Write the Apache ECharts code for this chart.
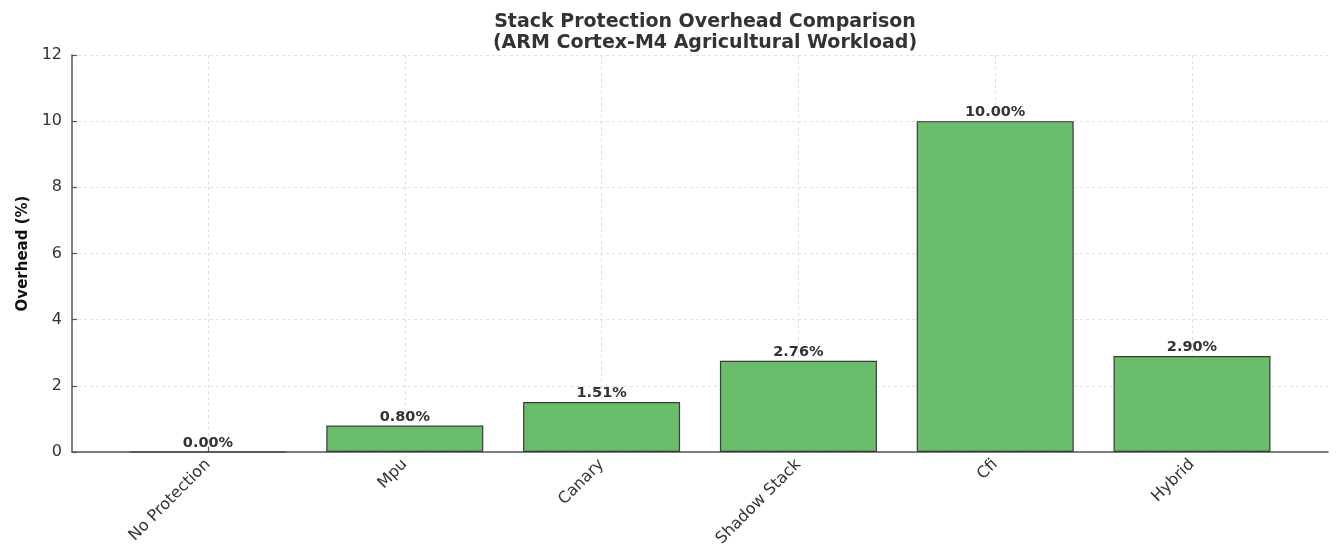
<!DOCTYPE html>
<html>
<head>
<meta charset="utf-8">
<script src="https://cdn.jsdelivr.net/npm/echarts@6/dist/echarts.min.js"></script>
<style>html,body{margin:0;padding:0;background:#fff}#c{width:1340px;height:552px}</style>
</head>
<body>
<div id="c"></div>
<script>
const categories = ['No Protection', 'Mpu', 'Canary', 'Shadow Stack', 'Cfi', 'Hybrid'];
const overhead = [0.00, 0.80, 1.51, 2.76, 10.00, 2.90];
const yTicks = [0, 2, 4, 6, 8, 10, 12];

const chart = echarts.init(document.getElementById('c'), null, {renderer: 'canvas'});
const font = 'DejaVu Sans';
const gridTop = 55, gridBottom = 100;
chart.setOption({
  animation: false,
  backgroundColor: '#fff',
  title: {
    text: 'Stack Protection Overhead Comparison\n(ARM Cortex-M4 Agricultural Workload)',
    left: 700, top: 7, textAlign: 'center',
    textStyle: {fontFamily: font, fontSize: 19, fontWeight: 'bold', color: '#333', lineHeight: 21}
  },
  grid: [
    {left: 72, right: 12, top: gridTop, bottom: gridBottom},
    {left: 208, right: 148, top: gridTop, bottom: gridBottom}
  ],
  xAxis: [
    {gridIndex: 0, type: 'value', min: 0, max: 1,
      axisLine: {show: true, onZero: false, lineStyle: {color: '#555', width: 1.5}},
      axisTick: {show: false}, axisLabel: {show: false}, splitLine: {show: false}},
    {gridIndex: 1, type: 'category', data: categories, boundaryGap: false,
      axisLine: {show: false},
      axisTick: {show: true, inside: true, length: 5, lineStyle: {color: '#555', width: 1.2}},
      axisLabel: {rotate: 45, fontFamily: font, fontSize: 16, color: '#333', margin: 10, interval: 0},
      splitLine: {show: true, lineStyle: {color: '#ddd', type: [3, 3], width: 1}}}
  ],
  yAxis: [
    {gridIndex: 0, type: 'value', min: 0, max: 12, interval: 2,
      name: 'Overhead (%)', nameLocation: 'middle', nameGap: 38,
      nameTextStyle: {fontFamily: font, fontSize: 15, fontWeight: 'bold', color: '#111'},
      axisLine: {show: true, lineStyle: {color: '#555', width: 1.5}},
      axisTick: {show: true, inside: true, length: 5, lineStyle: {color: '#555', width: 1.2}},
      axisLabel: {fontFamily: font, fontSize: 16, color: '#333', margin: 10,
        formatter: v => yTicks.includes(v) ? String(v) : ''},
      splitLine: {show: true, lineStyle: {color: '#e2e2e2', type: [3, 3], width: 1}}},
    {gridIndex: 1, type: 'value', min: 0, max: 12, interval: 2, show: false}
  ],
  series: [{
    type: 'bar', xAxisIndex: 1, yAxisIndex: 1, clip: false,
    data: overhead, barWidth: 157,
    itemStyle: {color: '#6abd6a', borderColor: '#3a3a3a', borderWidth: 1.2},
    label: {show: true, position: 'top', distance: 1, fontFamily: font, fontSize: 14.5,
      fontWeight: 'bold', color: '#333', formatter: p => p.value.toFixed(2) + '%'}
  }]
});
</script>
</body>
</html>
